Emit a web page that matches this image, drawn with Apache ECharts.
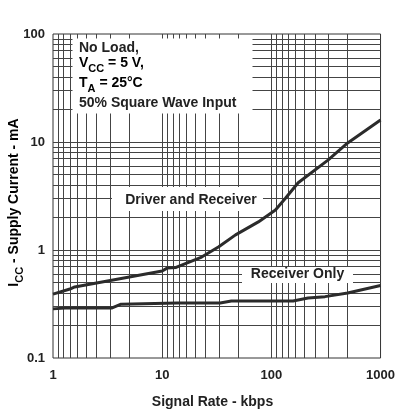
<!DOCTYPE html>
<html>
<head>
<meta charset="utf-8">
<script src="https://cdn.jsdelivr.net/npm/echarts@6/dist/echarts.min.js"></script>
<style>
  html, body { margin: 0; padding: 0; background: #fff; }
  #main { width: 398px; height: 409px; }
</style>
</head>
<body>
<div id="main"></div>
<script>
var FONT = '"Liberation Sans", Arial, Helvetica, sans-serif';
var INK = '#222';

// Driver and Receiver curve (kbps, mA)
var drvX = [1, 1.43, 1.58, 10, 11.1, 13.4, 23, 33, 47, 76, 109, 134, 176, 330, 500, 1000];
var drvY = [0.39, 0.435, 0.455, 0.64, 0.68, 0.69, 0.86, 1.07, 1.38, 1.82, 2.35, 3.0, 4.2, 6.8, 9.8, 16];

// Receiver Only curve
var rcvX = [1, 1.29, 3.44, 4.2, 13.7, 34, 43, 158, 217, 310, 500, 1000];
var rcvY = [0.285, 0.29, 0.29, 0.315, 0.323, 0.323, 0.337, 0.337, 0.36, 0.37, 0.40, 0.47];

// grid lines (x grid of the original is drawn mirrored inside each decade)
var xDecades = [1, 10, 100];
var xMinor = [1.11, 1.25, 1.43, 1.67, 2, 2.5, 3.33, 5];
var yDecades = [0.1, 1, 10];
var yMinor = [2, 3, 4, 5, 6, 7, 8, 9];

function pairs(xs, ys) {
  return xs.map(function (x, i) { return [x, ys[i]]; });
}

var gridLines = [];
xDecades.forEach(function (d, i) {
  if (i > 0) gridLines.push({ xAxis: d });
  xMinor.forEach(function (m) { gridLines.push({ xAxis: +(d * m).toPrecision(4) }); });
});
yDecades.forEach(function (d, i) {
  if (i > 0) gridLines.push({ yAxis: d });
  yMinor.forEach(function (m) { gridLines.push({ yAxis: +(d * m).toPrecision(4) }); });
});

var txt = { fontFamily: FONT, fontSize: 14, fontWeight: 'bold', fill: INK };
var subRich = {
  a: { fontFamily: FONT, fontSize: 14, fontWeight: 'bold', color: INK, lineHeight: 22 },
  s: { fontFamily: FONT, fontSize: 11, fontWeight: 'bold', color: INK, lineHeight: 11, padding: [11, 0, 0, 0] }
};

var chart = echarts.init(document.getElementById('main'));
chart.setOption({
  animation: false,
  grid: { left: 53, right: 15, top: 34, bottom: 51, show: true, borderColor: '#333', borderWidth: 1, z: 0 },
  xAxis: {
    type: 'log', logBase: 10, min: 1, max: 1000,
    axisLine: { show: false }, axisTick: { show: false }, splitLine: { show: false },
    axisLabel: {
      margin: 11, fontFamily: FONT, fontSize: 13, fontWeight: 'bold', color: INK,
      formatter: function (v) { return String(+v.toPrecision(4)); }
    }
  },
  yAxis: {
    type: 'log', logBase: 10, min: 0.1, max: 100,
    axisLine: { show: false }, axisTick: { show: false }, splitLine: { show: false },
    axisLabel: {
      margin: 8, fontFamily: FONT, fontSize: 13, fontWeight: 'bold', color: INK,
      formatter: function (v) { return String(+v.toPrecision(3)); }
    }
  },
  series: [
    {
      type: 'line', data: [], z: 1, silent: true,
      markLine: {
        z: 1, silent: true, symbol: ['none', 'none'], label: { show: false },
        lineStyle: { color: '#444', width: 1, type: 'solid' },
        emphasis: { disabled: true },
        data: gridLines
      }
    },
    {
      name: 'Driver and Receiver', type: 'line', z: 10, showSymbol: false,
      lineStyle: { color: '#2b2b2b', width: 3 },
      data: pairs(drvX, drvY)
    },
    {
      name: 'Receiver Only', type: 'line', z: 10, showSymbol: false,
      lineStyle: { color: '#2b2b2b', width: 3 },
      data: pairs(rcvX, rcvY)
    }
  ],
  graphic: {
    z: 3,
    elements: [
      { type: 'rect', z: 3, shape: { x: 72.5, y: 38.5, width: 180, height: 75 }, style: { fill: '#fff' } },
      { type: 'text', z: 4, x: 79, y: 48, style: Object.assign({ text: 'No Load,', verticalAlign: 'middle' }, txt) },
      { type: 'text', z: 4, x: 79, y: 63, style: { text: '{a|V}{s|CC}{a| = 5 V,}', rich: subRich, verticalAlign: 'middle' } },
      { type: 'text', z: 4, x: 79, y: 83.5, style: { text: '{a|T}{s|A}{a| = 25°C}', rich: subRich, verticalAlign: 'middle' } },
      { type: 'text', z: 4, x: 79, y: 103.5, style: Object.assign({ text: '50% Square Wave Input', verticalAlign: 'middle' }, txt) },

      { type: 'rect', z: 3, shape: { x: 112, y: 187, width: 151, height: 24 }, style: { fill: '#fff' } },
      { type: 'text', z: 4, x: 191, y: 200.5, style: Object.assign({ text: 'Driver and Receiver', align: 'center', verticalAlign: 'middle' }, txt) },

      { type: 'rect', z: 3, shape: { x: 242, y: 267, width: 111, height: 16 }, style: { fill: '#fff' } },
      { type: 'text', z: 4, x: 297.5, y: 274, style: Object.assign({ text: 'Receiver Only', align: 'center', verticalAlign: 'middle' }, txt) },

      { type: 'text', z: 4, x: 212.5, y: 402, style: Object.assign({ text: 'Signal Rate - kbps', align: 'center', verticalAlign: 'middle' }, txt) },
      { type: 'text', z: 4, x: 14, y: 202.5, rotation: Math.PI / 2,
        style: { text: '{a|I}{s|CC}{a| - Supply Current - mA}', rich: subRich, align: 'center', verticalAlign: 'middle' } }
    ]
  }
});
</script>
</body>
</html>
